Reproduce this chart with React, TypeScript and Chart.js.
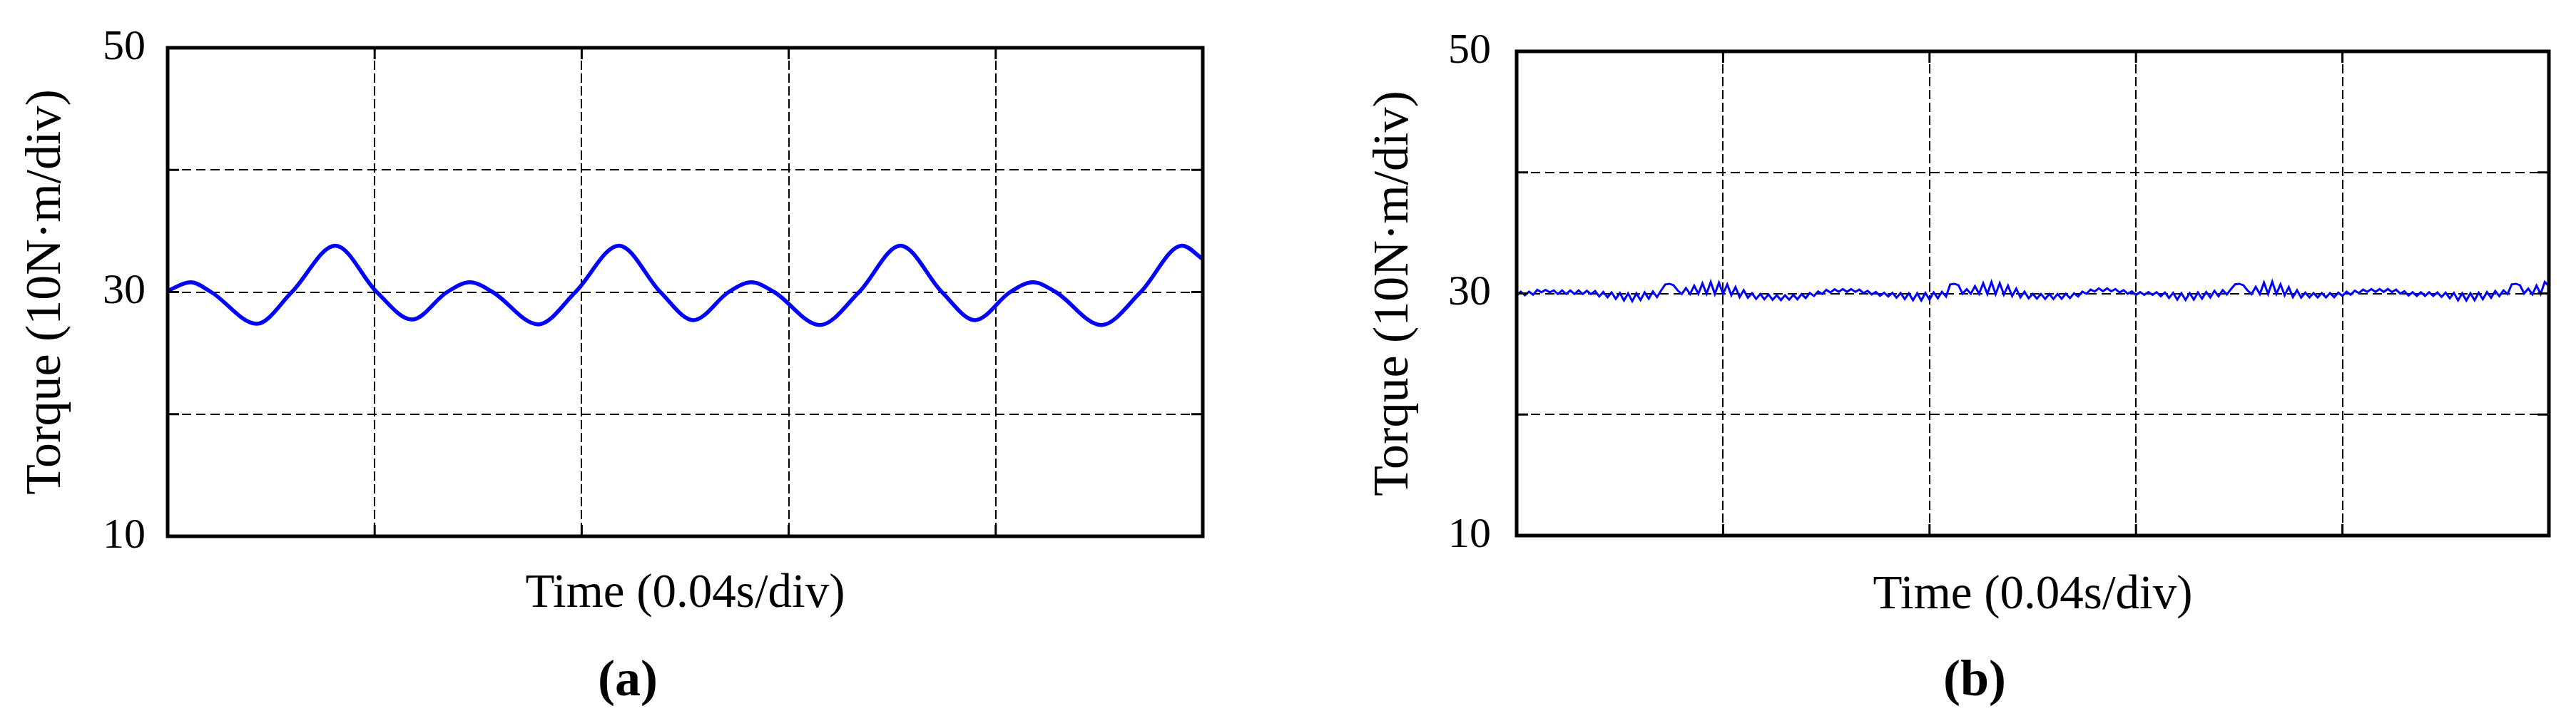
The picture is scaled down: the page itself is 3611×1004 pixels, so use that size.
import React, { useEffect, useRef } from 'react';
import { Chart, registerables } from 'chart.js';

Chart.register(...registerables);

// ---------- data ----------
const yTickValues = [10, 30, 50];
const yGridStep = 10;
const xDivisions = 5;

// (a) torque without compensation: sample times (div) and torque (10 N·m/div units)
const timeA = [0, 0.11, 0.21, 0.43, 0.6, 0.81, 1.01, 1.18, 1.35, 1.46, 1.57, 1.79, 1.97, 2.18, 2.38, 2.54, 2.71, 2.82, 2.93, 3.15, 3.34, 3.54, 3.74, 3.9, 4.07, 4.18, 4.29, 4.51, 4.7, 4.9, 5.0];
const torqueA = [30.1, 30.8, 30.0, 27.4, 30.0, 33.8, 30.0, 27.75, 30.0, 30.8, 30.0, 27.35, 30.0, 33.8, 30.0, 27.7, 30.0, 30.8, 30.0, 27.3, 30.0, 33.8, 30.0, 27.7, 30.0, 30.8, 30.0, 27.3, 30.0, 33.8, 32.7];

// (b) torque with compensation, sampled every 0.02 div
const sampleStepB = 0.02;
const torqueB = [
  29.85, 30.15, 29.85, 30.15, 29.9, 30.3, 30.1, 30.3, 30.1, 30.25,
  29.95, 30.25, 29.95, 30.25, 29.95, 30.25, 29.95, 30.22, 29.95, 30.2,
  29.75, 30.13, 29.68, 30.09, 29.55, 30.04, 29.42, 30.01, 29.36, 30.01,
  29.45, 30.09, 29.57, 30.16, 29.7, 30.25, 30.75, 30.8, 30.68, 30.25,
  29.95, 30.45, 29.95, 30.64, 29.97, 30.83, 29.97, 30.95, 29.95, 30.9,
  29.95, 30.75, 29.85, 30.52, 29.7, 30.27, 29.65, 30.02, 29.55, 29.95,
  29.52, 29.92, 29.48, 29.85, 29.45, 29.85, 29.48, 29.88, 29.52, 29.94,
  29.62, 30.04, 29.8, 30.17, 29.95, 30.3, 30.08, 30.35, 30.13, 30.37,
  30.13, 30.37, 30.13, 30.32, 30.03, 30.22, 29.92, 30.13, 29.81, 30.06,
  29.75, 30.05, 29.65, 30.03, 29.53, 30.02, 29.44, 30.01, 29.42, 30.04,
  29.5, 30.09, 29.6, 30.13, 29.75, 30.75, 30.8, 30.68, 29.98, 30.35,
  29.97, 30.6, 29.97, 30.85, 29.95, 30.95, 29.94, 30.85, 29.91, 30.65,
  29.78, 30.4, 29.67, 30.15, 29.6, 29.97, 29.57, 29.95, 29.55, 29.95,
  29.55, 29.95, 29.56, 29.98, 29.62, 30.01, 29.75, 30.15, 29.97, 30.32,
  30.16, 30.42, 30.18, 30.42, 30.18, 30.37, 30.08, 30.27, 29.98, 30.17,
  29.88, 30.12, 29.88, 30.12, 29.88, 30.11, 29.77, 30.08, 29.63, 30.05,
  29.49, 30.03, 29.47, 30.03, 29.49, 30.08, 29.57, 30.12, 29.67, 30.21,
  29.77, 30.27, 29.92, 30.35, 30.75, 30.8, 30.68, 30.25, 29.95, 30.55,
  29.95, 30.9, 29.95, 30.97, 29.95, 30.75, 29.85, 30.52, 29.7, 30.27,
  29.65, 30.07, 29.67, 30.03, 29.67, 30.03, 29.67, 30.03, 29.69, 30.07,
  29.8, 30.15, 29.9, 30.23, 30.03, 30.32, 30.13, 30.37, 30.13, 30.37,
  30.13, 30.37, 30.11, 30.32, 29.99, 30.19, 29.83, 30.1, 29.8, 30.1,
  29.8, 30.1, 29.8, 30.09, 29.72, 30.07, 29.6, 30.05, 29.43, 30.02,
  29.42, 30.02, 29.44, 30.06, 29.52, 30.12, 29.65, 30.2, 29.78, 30.25,
  29.95, 30.75, 30.8, 30.68, 30.0, 30.4, 29.92, 30.65, 29.96, 30.95,
  30.6,
];

const yTitleText = 'Torque (10N·m/div)';
const xTitleText = 'Time (0.04s/div)';
const captions = ['(a)', '(b)'];

// ---------- styling ----------
const FONT = '"Liberation Serif", "Times New Roman", serif';
const BLUE = '#0000ff';

const framePlugin = {
  id: 'scopeFrame',
  afterDatasetsDraw(chart: any) {
    const { ctx, chartArea, scales } = chart;
    const { left, right, top, bottom } = chartArea;
    const xs = scales.x;
    const ys = scales.y;
    const tl = 16;
    ctx.save();
    ctx.setLineDash([]);
    ctx.strokeStyle = '#000';
    ctx.lineWidth = 3;
    xs.ticks.forEach((t: any) => {
      const px = xs.getPixelForValue(t.value);
      if (px <= left + 1 || px >= right - 1) return;
      ctx.beginPath();
      ctx.moveTo(px, top);
      ctx.lineTo(px, top + tl);
      ctx.moveTo(px, bottom);
      ctx.lineTo(px, bottom - tl);
      ctx.stroke();
    });
    ys.ticks.forEach((t: any) => {
      const py = ys.getPixelForValue(t.value);
      if (py <= top + 1 || py >= bottom - 1) return;
      ctx.beginPath();
      ctx.moveTo(left, py);
      ctx.lineTo(left + tl, py);
      ctx.moveTo(right, py);
      ctx.lineTo(right - tl, py);
      ctx.stroke();
    });
    ctx.lineWidth = 5;
    ctx.strokeRect(left, top, right - left, bottom - top);
    ctx.restore();
  },
};

type PanelLayout = {
  yAxisWidth: number;
  xAxisHeight: number;
  padRight: number;
  padTop: number;
  yTitlePad: number;
  yTickPad: number;
  xTitlePad: number;
};

function makeConfig(points: { x: number; y: number }[], lineWidth: number, smooth: boolean, lay: PanelLayout) {
  return {
    type: 'line',
    data: {
      datasets: [
        {
          data: points,
          borderColor: BLUE,
          borderWidth: lineWidth,
          pointRadius: 0,
          fill: false,
          tension: 0,
          cubicInterpolationMode: smooth ? 'monotone' : 'default',
        },
      ],
    },
    options: {
      animation: false,
      responsive: false,
      maintainAspectRatio: false,
      events: [],
      layout: { padding: { left: 0, right: lay.padRight, top: lay.padTop, bottom: 0 } },
      plugins: { legend: { display: false }, tooltip: { enabled: false }, title: { display: false } },
      scales: {
        x: {
          type: 'linear',
          min: 0,
          max: xDivisions,
          ticks: { stepSize: 1, display: false },
          grid: { color: '#000', lineWidth: 2, drawTicks: false },
          border: { display: false, dash: [13, 5] },
          title: {
            display: true,
            text: xTitleText,
            color: '#000',
            font: { family: FONT, size: 67 },
            padding: { top: 0, bottom: lay.xTitlePad },
          },
          afterFit: (s: any) => {
            s.height = lay.xAxisHeight;
          },
        },
        y: {
          type: 'linear',
          min: 10,
          max: 50,
          ticks: {
            stepSize: yGridStep,
            autoSkip: false,
            padding: lay.yTickPad,
            color: '#000',
            font: { family: FONT, size: 60 },
            callback: (v: any) => (yTickValues.includes(Number(v)) ? String(v) : ''),
          },
          grid: { color: '#000', lineWidth: 2, drawTicks: false },
          border: { display: false, dash: [13, 7] },
          title: {
            display: true,
            text: yTitleText,
            color: '#000',
            font: { family: FONT, size: 70 },
            padding: { top: lay.yTitlePad, bottom: 0 },
          },
          afterFit: (s: any) => {
            s.width = lay.yAxisWidth;
          },
        },
      },
    },
    plugins: [framePlugin],
  } as any;
}

export default function App() {
  const refA = useRef<HTMLCanvasElement>(null);
  const refB = useRef<HTMLCanvasElement>(null);

  useEffect(() => {
    const ptsA = timeA.map((t, i) => ({ x: t, y: torqueA[i] }));
    const ptsB = torqueB.map((v, i) => ({ x: +(i * sampleStepB).toFixed(4), y: v }));
    const chartA = new Chart(
      refA.current as HTMLCanvasElement,
      makeConfig(ptsA, 5.5, true, {
        yAxisWidth: 235,
        xAxisHeight: 252,
        padRight: 114,
        padTop: 62,
        yTitlePad: 24,
        yTickPad: 31,
        xTitlePad: 130,
      })
    );
    const chartB = new Chart(
      refB.current as HTMLCanvasElement,
      makeConfig(ptsB, 3, false, {
        yAxisWidth: 326,
        xAxisHeight: 253,
        padRight: 38,
        padTop: 62,
        yTitlePad: 113,
        yTickPad: 36,
        xTitlePad: 128,
      })
    );
    return () => {
      chartA.destroy();
      chartB.destroy();
    };
  }, []);

  const captionStyle = (center: number): React.CSSProperties => ({
    position: 'absolute',
    left: center - 100,
    top: 915,
    width: 200,
    textAlign: 'center',
    fontFamily: FONT,
    fontWeight: 'bold',
    fontSize: 72,
    lineHeight: '72px',
    color: '#000',
  });

  return (
    <div style={{ position: 'absolute', left: 0, top: 0, width: 3611, height: 1004, background: '#fff', overflow: 'hidden' }}>
      <canvas ref={refA} width={1800} height={1004} style={{ position: 'absolute', left: 0, top: 0, display: 'block' }} />
      <canvas ref={refB} width={1811} height={1004} style={{ position: 'absolute', left: 1800, top: 0, display: 'block' }} />
      <div style={captionStyle(880)}>{captions[0]}</div>
      <div style={captionStyle(2768)}>{captions[1]}</div>
    </div>
  );
}
